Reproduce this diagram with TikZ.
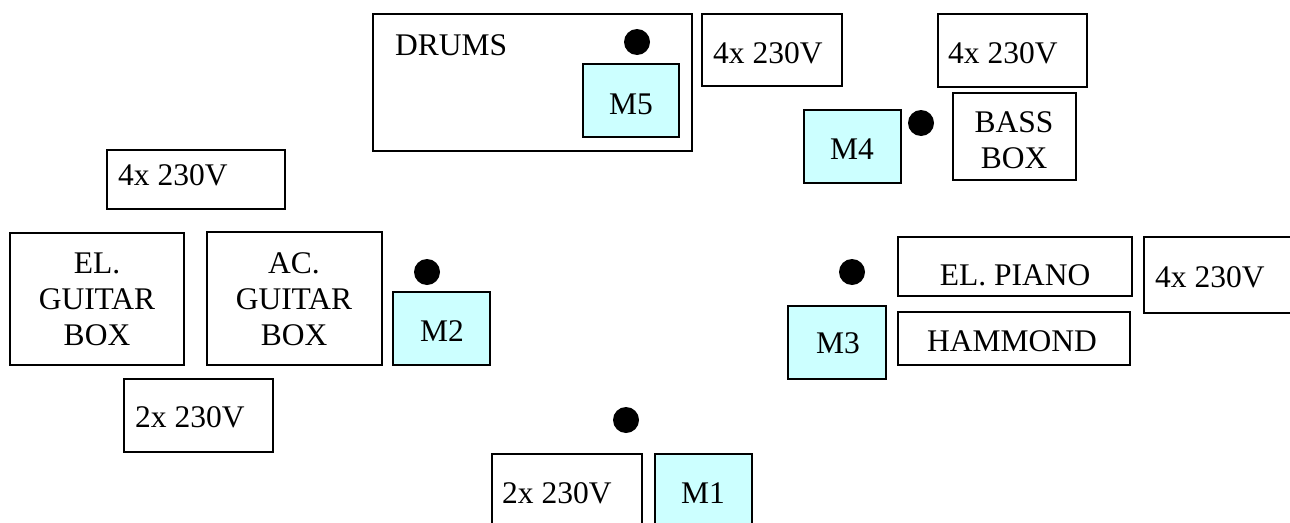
\documentclass[tikz,border=0pt]{standalone}
\usepackage{fontspec}
\setmainfont{Liberation Serif}
\definecolor{mcyan}{HTML}{CCFFFF}
\begin{document}
\begin{tikzpicture}[x=1pt,y=-1pt,
  box/.style={draw=black,line width=1.6pt,fill=white},
  mic/.style={draw=black,line width=1.6pt,fill=mcyan},
  lbl/.style={font=\fontsize{31.5}{36}\selectfont,inner sep=0pt,anchor=base},
  lblw/.style={font=\fontsize{31.5}{36}\selectfont,inner sep=0pt,anchor=base west},
  dotm/.style={circle,fill=black,minimum size=26pt,inner sep=0pt}]
\useasboundingbox (0,0) rectangle (1290,522);
\clip (0,0) rectangle (1290,522);
% boxes
\draw[box] (373,14) rectangle (692,151) coordinate (drumsbox);
\draw[mic] (583,64) rectangle (679,137);
\draw[box] (702,14) rectangle (842,86);
\draw[box] (938,14) rectangle (1087,87);
\draw[mic] (804,110) rectangle (901,183);
\draw[box] (953,93) rectangle (1076,180);
\draw[box] (107,150) rectangle (285,209);
\draw[box] (10,233) rectangle (184,365);
\draw[box] (207,232) rectangle (382,365);
\draw[mic] (393,292) rectangle (490,365);
\draw[box] (124,379) rectangle (273,452);
\draw[box] (898,237) rectangle (1132,296);
\draw[box] (1144,237) rectangle (1300,313);
\draw[mic] (788,306) rectangle (886,379);
\draw[box] (898,312) rectangle (1130,365);
\draw[box] (492,454) rectangle (642,540);
\draw[mic] (655,454) rectangle (752,540);
% dots
\node[dotm] (d5) at (637,42) {};
\node[dotm] (d4) at (921,123) {};
\node[dotm] (d2) at (427,272) {};
\node[dotm] (d3) at (852,272) {};
\node[dotm] (d1) at (626,420) {};
% texts
\node[lblw] (tdrums) at (395,55) {DRUMS};
\node[lbl] (tm5) at (631,114) {M5};
\node[lblw] (tp1) at (713,63) {4x 230V};
\node[lblw] (tp2) at (948,63) {4x 230V};
\node[lbl] (tm4) at (852,159) {M4};
\node[lbl] (tbass1) at (1014,132) {BASS};
\node[lbl] (tbass2) at (1014,168) {BOX};
\node[lblw] (tp3) at (118,185) {4x 230V};
\node[lbl] (teg1) at (97,273) {EL.};
\node[lbl] (teg2) at (97,309) {GUITAR};
\node[lbl] (teg3) at (97,345) {BOX};
\node[lbl] (tag1) at (294,273) {AC.};
\node[lbl] (tag2) at (294,309) {GUITAR};
\node[lbl] (tag3) at (294,345) {BOX};
\node[lbl] (tm2) at (442,341) {M2};
\node[lblw] (tp4) at (135,427) {2x 230V};
\node[lbl] (tpiano) at (1015,285) {EL. PIANO};
\node[lblw] (tp5) at (1155,287) {4x 230V};
\node[lbl] (tm3) at (838,353) {M3};
\node[lbl] (tham) at (1012,351) {HAMMOND};
\node[lblw] (tp6) at (502,503) {2x 230V};
\node[lbl] (tm1) at (703,503) {M1};
\end{tikzpicture}
\end{document}
